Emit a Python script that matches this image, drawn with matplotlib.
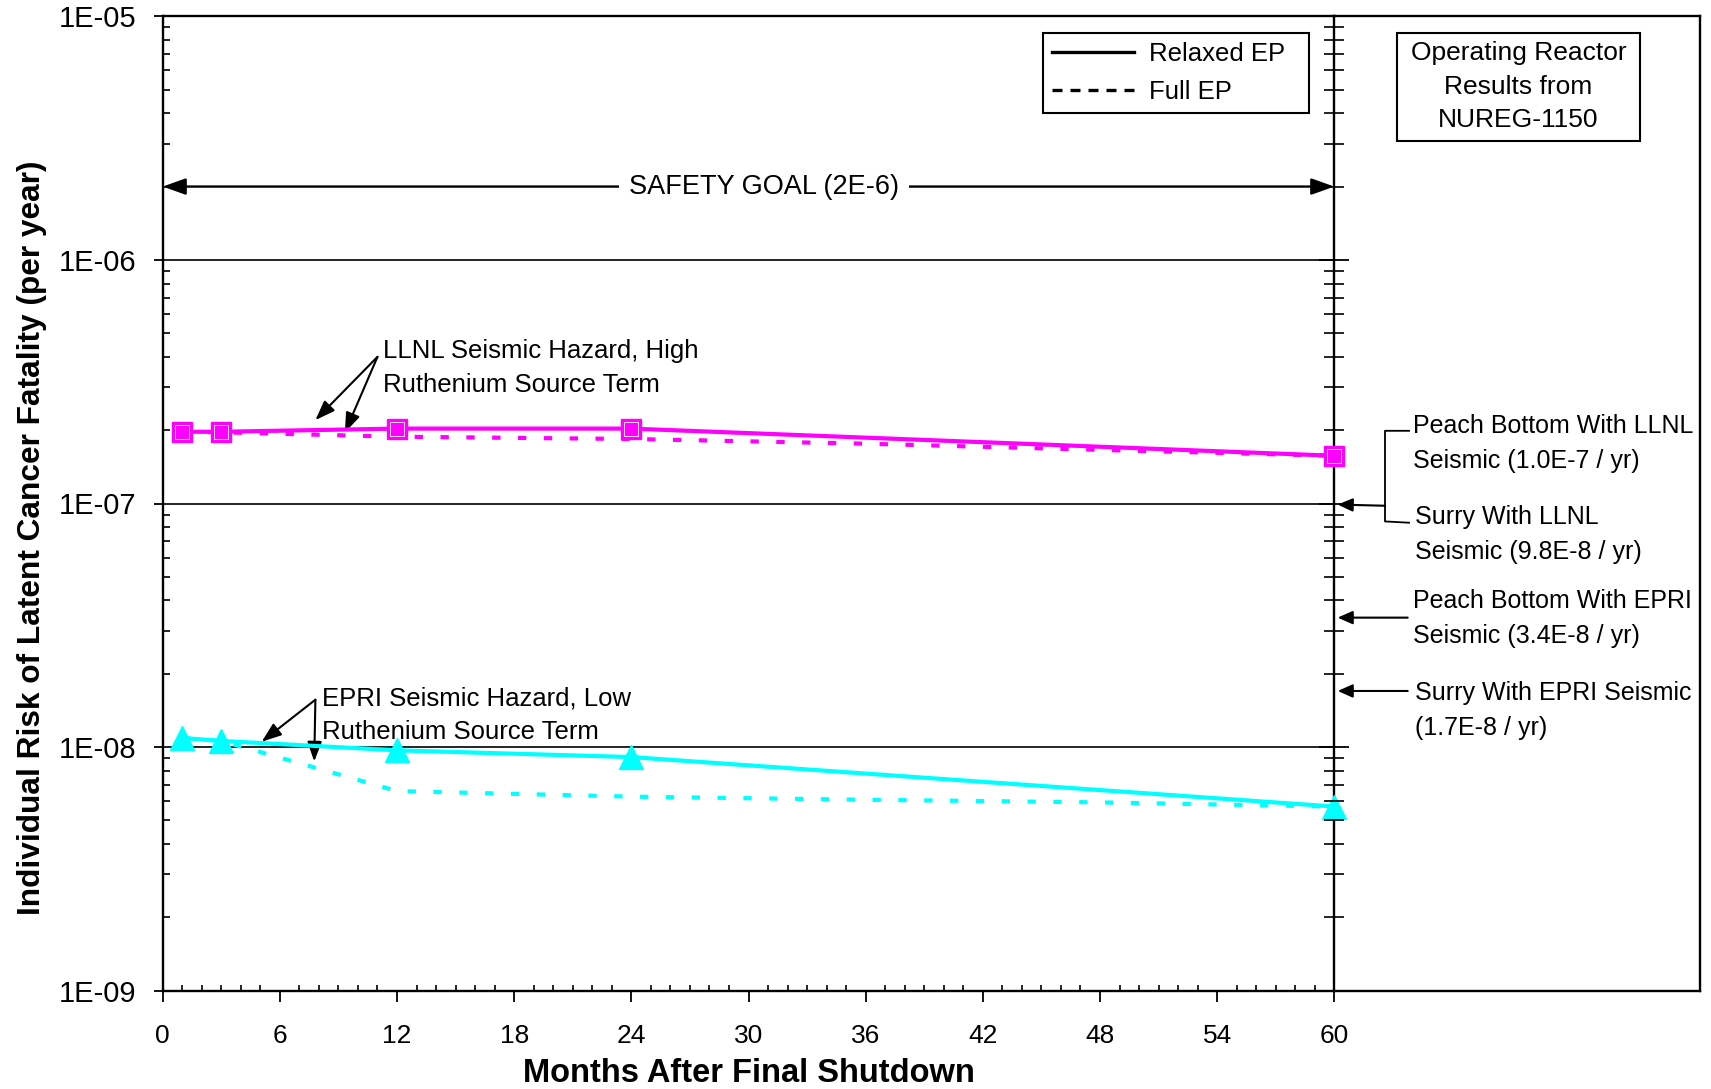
import numpy as np
import matplotlib.pyplot as plt
from matplotlib.ticker import MultipleLocator, LogLocator, FuncFormatter, NullFormatter
from matplotlib.lines import Line2D
from matplotlib.patches import Rectangle

plt.rcParams['font.family'] = ['Liberation Sans', 'DejaVu Sans']

# Months after final shutdown
months = [1, 3, 12, 24, 60]
months_full = [1, 3, 12, 24, 36, 48, 60]

# LLNL seismic hazard, high ruthenium source term (magenta)
llnl_relaxed = [1.97e-7, 1.97e-7, 2.03e-7, 2.03e-7, 1.57e-7]
llnl_full = [1.97e-7, 1.96e-7, 1.88e-7, 1.84e-7, 1.76e-7, 1.66e-7, 1.57e-7]

# EPRI seismic hazard, low ruthenium source term (cyan)
epri_relaxed = [1.09e-8, 1.06e-8, 9.7e-9, 9.1e-9, 5.7e-9]
epri_full = [1.09e-8, 1.06e-8, 6.6e-9, 6.26e-9, 6.08e-9, 5.93e-9, 5.7e-9]

safety_goal = 2e-6

# Operating reactor results from NUREG-1150
reactor_labels = ['Peach Bottom With LLNL\nSeismic (1.0E-7 / yr)',
                  'Surry With LLNL\nSeismic (9.8E-8 / yr)',
                  'Peach Bottom With EPRI\nSeismic (3.4E-8 / yr)',
                  'Surry With EPRI Seismic\n(1.7E-8 / yr)']
reactor_values = [1.0e-7, 9.8e-8, 3.4e-8, 1.7e-8]
reactor_text_y = [1.76e-7, 7.47e-8, 3.37e-8, 1.417e-8]
reactor_text_x = [0.216, 0.2207, 0.216, 0.2207]

MAGENTA = '#FF00FF'
CYAN = '#00FFFF'

W, H = 1711, 1089
fig = plt.figure(figsize=(W / 100, H / 100), dpi=100)
ax_l, ax_r, ax_t, ax_b = 162.7, 1334.3, 16.3, 990.7
ax = fig.add_axes([ax_l / W, 1 - ax_b / H, (ax_r - ax_l) / W, (ax_b - ax_t) / H])
panel = fig.add_axes([ax_r / W, 1 - ax_b / H, (1700 - ax_r) / W, (ax_b - ax_t) / H], sharey=ax)
panel.set_facecolor('none')

ax.set_yscale('log')
ax.set_ylim(1e-9, 1e-5)
ax.set_xlim(0, 60)
ax.xaxis.set_major_locator(MultipleLocator(6))
ax.xaxis.set_minor_locator(MultipleLocator(1))
ax.yaxis.set_major_locator(LogLocator(base=10))
ax.yaxis.set_minor_locator(LogLocator(base=10, subs=range(2, 10)))
ax.yaxis.set_minor_formatter(NullFormatter())
ax.yaxis.set_major_formatter(FuncFormatter(lambda v, p: f'{v:.0E}'))

ax.tick_params(axis='x', which='major', direction='out', length=7.9, width=1.3, pad=16, labelsize=19)
ax.tick_params(axis='x', which='minor', direction='in', length=4.6, width=1.2)
ax.tick_params(axis='y', which='major', direction='out', length=6.8, width=1.3, pad=12, labelsize=21)
ax.tick_params(axis='y', which='minor', direction='in', length=5, width=1.2)
for s in ax.spines.values():
    s.set_linewidth(1.7)
ax.yaxis.grid(True, which='major', color='black', linewidth=1.2)

panel.set_xlim(0, 1)
panel.set_xticks([])
panel.spines['left'].set_visible(False)
for s in panel.spines.values():
    s.set_linewidth(1.7)
panel.tick_params(axis='y', which='major', left=True, direction='inout', length=21.6, width=1.3, labelleft=False)
panel.tick_params(axis='y', which='minor', left=True, direction='inout', length=15, width=1.2, labelleft=False)

# data series
ax.plot(months_full, llnl_full, color=MAGENTA, lw=3, dashes=(2, 4.2), dash_capstyle='butt')
ax.plot(months, llnl_relaxed, color=MAGENTA, lw=3, marker='s', ms=15, mec=MAGENTA, clip_on=False, zorder=4)
ax.plot(months, llnl_relaxed, ls='none', marker='s', ms=10, mfc='none', mec='white', mew=0.6, clip_on=False, zorder=4)
ax.plot(months_full, epri_full, color=CYAN, lw=3, dashes=(2, 4.2), dash_capstyle='butt')
ax.plot(months, epri_relaxed, color=CYAN, lw=3, marker='^', ms=17, mec=CYAN, clip_on=False, zorder=4)

# safety goal
ax.annotate('', xy=(0, safety_goal), xytext=(60, safety_goal),
            arrowprops=dict(arrowstyle='<|-|>,head_length=0.7,head_width=0.25', color='black',
                            lw=1.7, shrinkA=0, shrinkB=0, mutation_scale=20))
ax.text(30.8, safety_goal, 'SAFETY GOAL (2E-6)', ha='center', va='center', fontsize=19.5,
        bbox=dict(facecolor='white', edgecolor='none', pad=7), zorder=5)

arrow_kw = dict(arrowstyle='-|>,head_length=0.6,head_width=0.22', color='black', lw=1.5,
                shrinkA=0, shrinkB=0, mutation_scale=20)

# series annotations
ax.text(11.3, 3.6e-7, 'LLNL Seismic Hazard, High\nRuthenium Source Term', ha='left', va='center',
        fontsize=18.5, linespacing=1.52)
for tip in [(7.82, 2.2e-7), (9.33, 1.955e-7)]:
    ax.annotate('', xy=tip, xytext=(11.0, 4.0e-7), arrowprops=arrow_kw)

ax.text(8.15, 1.352e-8, 'EPRI Seismic Hazard, Low\nRuthenium Source Term', ha='left', va='center',
        fontsize=18.5, linespacing=1.52)
for tip in [(5.07, 1.052e-8), (7.76, 8.73e-9)]:
    ax.annotate('', xy=tip, xytext=(7.82, 1.565e-8), arrowprops=arrow_kw)

# right panel: operating reactor results
small_arrow = dict(arrowstyle='-|>,head_length=0.45,head_width=0.2', color='black', lw=1.5,
                   shrinkA=0, shrinkB=0, mutation_scale=20)
for lab, tx, ty in zip(reactor_labels, reactor_text_x, reactor_text_y):
    panel.text(tx, ty, lab, ha='left', va='center', fontsize=18, linespacing=1.56)
panel.plot([0.2043, 0.1386, 0.1386, 0.2043], [1.988e-7, 1.988e-7, 8.44e-8, 8.34e-8], color='black', lw=1.3)
panel.annotate('', xy=(0.0093, np.mean(reactor_values[:2])), xytext=(0.1386, 9.79e-8), arrowprops=small_arrow)
for v in reactor_values[2:]:
    panel.annotate('', xy=(0.0093, v), xytext=(0.2007, v), arrowprops=small_arrow)

panel.add_patch(Rectangle((0.1709, 0.8723), 0.665, 0.1109, transform=panel.transAxes,
                          fill=False, lw=1.5, edgecolor='black'))
panel.text(0.5034, 0.9278, 'Operating Reactor\nResults from\nNUREG-1150', transform=panel.transAxes,
           ha='center', va='center', fontsize=19, linespacing=1.5)

# legend
handles = [Line2D([], [], color='black', lw=2.4),
           Line2D([], [], color='black', lw=2.4, dashes=(3, 2.4))]
leg = ax.legend(handles, ['Relaxed EP', 'Full EP'], loc='upper left',
                bbox_to_anchor=(1042.7 / W, 1 - 110.7 / H, 266.6 / W, 78 / H), bbox_transform=fig.transFigure,
                mode='expand', borderaxespad=0, fontsize=18.5, handlelength=3.2, handletextpad=0.6,
                labelspacing=0.55, borderpad=0.35, fancybox=False, edgecolor='black', framealpha=1)
leg.get_frame().set_linewidth(1.5)

ax.set_xlabel('Months After Final Shutdown', fontsize=23.5, fontweight='bold', labelpad=7)
ax.set_ylabel('Individual Risk of Latent Cancer Fatality (per year)', fontsize=22.8, fontweight='bold')
ax.yaxis.set_label_coords(-0.0988, 0.4646)

fig.savefig('out.png', dpi=100)
